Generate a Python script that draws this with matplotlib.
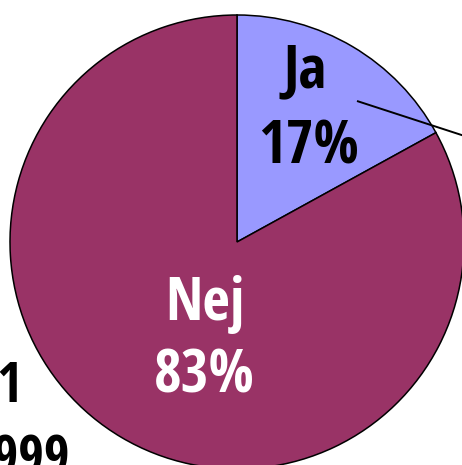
import matplotlib
matplotlib.use("Agg")
import matplotlib.pyplot as plt

# ---------- data ----------
labels = ["Ja", "Nej"]
shares = [17, 83]
colors = ["#9999ff", "#993366"]
text_colors = ["black", "white"]
side_lines = ["1", "1999"]

W, H = 462, 465
plt.rcParams['font.family'] = ['Open Sans Condensed', 'Roboto Condensed', 'PT Sans Narrow', 'DejaVu Sans']

fig = plt.figure(figsize=(W / 100, H / 100), dpi=100)
ax = fig.add_axes([0, 0, 1, 1])

# pixel-like coordinates, y measured from bottom
cx, cy, r = 237, H - 242, 227
ax.pie(shares, colors=colors, startangle=90, counterclock=False,
       center=(cx, cy), radius=r, frame=True,
       wedgeprops=dict(edgecolor="black", linewidth=1.1))

# leader line from the small slice outward
ax.plot([357, 480], [H - 101, H - 141], color="black", lw=1.4,
        solid_capstyle="butt")

# slice labels
lab_pos = [((305, H - 87), (309, H - 163)),
           ((205, H - 320), (204, H - 392))]
for lab, val, tc, (p1, p2) in zip(labels, shares, text_colors, lab_pos):
    ax.text(p1[0], p1[1], lab, ha="center", va="baseline", fontsize=43,
            fontweight="bold", color=tc)
    ax.text(p2[0], p2[1], f"{val}%", ha="center", va="baseline", fontsize=43,
            fontweight="bold", color=tc)

# caption, cut off at the left edge as in the original
ax.text(22, H - 402, side_lines[0], ha="right", va="baseline", fontsize=40,
        fontweight="bold", color="black")
ax.text(70, H - 475, side_lines[1], ha="right", va="baseline", fontsize=40,
        fontweight="bold", color="black")

ax.set_xlim(0, W)
ax.set_ylim(0, H)
ax.set_aspect("equal")
ax.axis("off")

fig.savefig("out.png", dpi=100)
